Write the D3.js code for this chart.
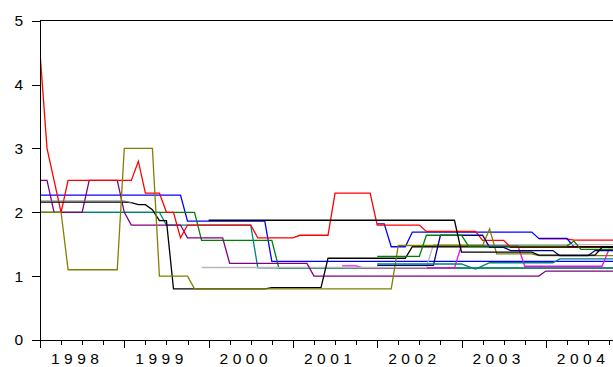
<!DOCTYPE html>
<html>
<head>
<meta charset="utf-8">
<script src="https://cdn.jsdelivr.net/npm/d3@7"></script>
<style>
html,body{margin:0;padding:0;background:#fff;}
svg{display:block;}
text{font-family:Arial,"Liberation Sans",sans-serif;fill:#000;}
</style>
</head>
<body>
<svg id="chart" width="613" height="367"></svg>
<script>
// Monthly observations, month 0 = 1998M01. Each run: [firstMonth, lastMonth, value]
const yearLabels = ["1998","1999","2000","2001","2002","2003","2004"];
const yTicks = [0,1,2,3,4,5];

const blue   = [[0,20,2.27],[21,32,1.86],[33,82,1.23]];
const green  = [[0,22,2.0],[23,33,1.56],[34,82,1.125]];
const teal   = [[0,17,2.0],[18,30,1.8],[31,82,1.13]];
const red2   = [[71,75,1.585],[76,82,1.565]];
const blue2  = [[48,49,1.82],[50,52,1.46],[53,70,1.69],[71,75,1.59],[76,82,1.46]];
const magenta= [[43,45,1.16],[46,59,1.13],[60,68,1.485],[69,80,1.155],[81,82,1.42]];
const silver = [[23,55,1.135],[56,82,1.495]];
const purple = [[0,1,2.5],[2,6,2.0],[7,11,2.5],[12,12,2.0],[13,20,1.8],[21,26,1.6],[27,38,1.2],[39,71,1.0],[72,82,1.08]];
const red    = [[0,0,4.5],[1,1,3.0],[2,2,2.5],[3,3,2.0],[4,13,2.5],[14,14,2.8],[15,17,2.3],[18,19,2.0],[20,20,1.6],[21,30,1.8],[31,36,1.6],[37,41,1.64],[42,47,2.3],[48,54,1.8],[55,62,1.7],[63,66,1.56],[67,82,1.45]];
const black  = [[0,12,2.16],[13,13,2.15],[14,15,2.12],[16,16,2.04],[17,18,1.87],[19,32,0.8],[33,40,0.82],[41,52,1.28],[53,82,1.46]];
const olive  = [[0,3,2.0],[4,11,1.1],[12,16,3.0],[17,21,1.0],[22,50,0.8],[51,63,1.48],[64,64,1.74],[65,70,1.35],[71,82,1.32]];
const gray   = [[0,12,2.175],[13,13,2.15]];
const navy   = [[48,56,1.17],[57,63,1.64],[64,66,1.45],[67,73,1.40],[74,78,1.32],[79,82,1.40]];
const green2 = [[48,54,1.31],[55,60,1.64],[61,75,1.47],[76,76,1.55],[77,82,1.42]];
const black2 = [[24,59,1.875],[60,70,1.375],[71,79,1.33],[80,82,1.45]];
const teal2  = [[48,60,1.19],[61,61,1.15],[62,62,1.11],[63,63,1.16],[64,73,1.21],[74,82,1.27]];

const seriesList = [
  {data: blue,    color: "#0000ff"},
  {data: green,   color: "#008000"},
  {data: teal,    color: "#008080"},
  {data: red2,    color: "#ff0000"},
  {data: blue2,   color: "#0000ff"},
  {data: magenta, color: "#ff00ff"},
  {data: silver,  color: "#b8b8b8"},
  {data: purple,  color: "#800080"},
  {data: red,     color: "#ff0000"},
  {data: black,   color: "#000000"},
  {data: olive,   color: "#808000"},
  {data: gray,    color: "#707070"},
  {data: navy,    color: "#000080"},
  {data: green2,  color: "#008000"},
  {data: black2,  color: "#000000"},
  {data: teal2,   color: "#008080"}
];

(function(){
const svg = d3.select("#chart");
const padL = 40, padT = 20.7, padB = 340, monthW = 7.025;
const x = d3.scaleLinear().domain([0,84]).range([padL, padL + 84*monthW]);
const y = d3.scaleLinear().domain([0,5]).range([padB, padT]);

svg.append("defs").append("clipPath").attr("id","plotclip")
  .append("rect").attr("x", padL).attr("y", 0).attr("width", 84*monthW).attr("height", 367);

function toPoints(runs){
  const pts = [];
  let prevEnd = null;
  runs.forEach(([a,b,v]) => {
    if (prevEnd !== null && a > prevEnd + 1) pts.push(null);
    pts.push({m:a, v:v});
    if (b > a) pts.push({m:b, v:v});
    prevEnd = b;
  });
  return pts;
}
const line = d3.line().defined(d => d !== null).x(d => x(d.m)).y(d => y(d.v));
const g = svg.append("g").attr("clip-path","url(#plotclip)");
seriesList.forEach(s => {
  g.append("path")
    .attr("d", line(toPoints(s.data)))
    .attr("fill","none")
    .attr("stroke", s.color)
    .attr("stroke-width", 1.3)
    .attr("stroke-linejoin","miter");
});

svg.append("line").attr("x1", padL).attr("x2", 613).attr("y1", padT).attr("y2", padT)
  .attr("stroke","#000").attr("stroke-width",1).attr("shape-rendering","crispEdges");

const yAxis = d3.axisLeft(y).tickValues(yTicks).tickFormat(d3.format("d")).tickSize(8).tickPadding(9);
const ya = svg.append("g").attr("transform", `translate(${padL},0)`).call(yAxis);
ya.select(".domain").attr("stroke","#000").attr("shape-rendering","crispEdges");
ya.selectAll(".tick line").attr("stroke","#000").attr("shape-rendering","crispEdges");
ya.selectAll("text").attr("font-size","15.5px").attr("font-family","Arial, 'Liberation Sans', sans-serif").attr("fill","#000");

const xa = svg.append("g").attr("transform", `translate(0,${padB})`);
const majorTicks = d3.range(0, 85, 12);
const minorTicks = d3.range(0, 85, 3).filter(m => m % 12 !== 0);
xa.call(d3.axisBottom(x).tickValues(majorTicks).tickSize(8).tickFormat(""));
xa.append("g").call(d3.axisBottom(x).tickValues(minorTicks).tickSize(5).tickFormat("")).select(".domain").remove();
xa.selectAll(".domain").attr("d", `M${padL},0.5H613`).attr("stroke","#000").attr("shape-rendering","crispEdges");
xa.selectAll(".tick line").attr("stroke","#000").attr("shape-rendering","crispEdges");

svg.append("g").selectAll("text").data(yearLabels).join("text")
  .attr("x", (d,i) => x(i*12) + 11)
  .attr("y", 364)
  .attr("font-size","15.5px")
  .attr("letter-spacing","4.5px")
  .text(d => d);
})();
</script>
</body>
</html>
